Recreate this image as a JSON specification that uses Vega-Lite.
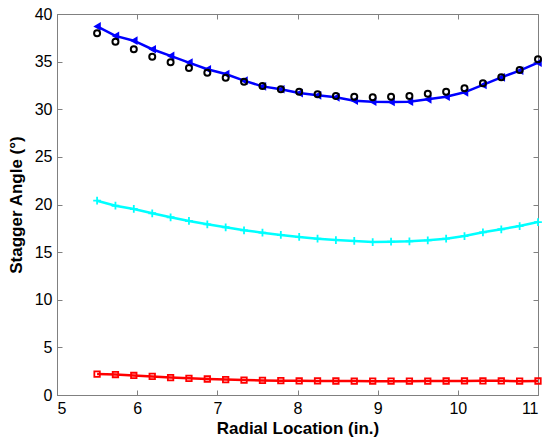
{
  "$schema": "https://vega.github.io/schema/vega-lite/v6.json",
  "autosize": "none",
  "width": 481,
  "height": 381,
  "padding": {"left": 57, "top": 14, "right": 9, "bottom": 46},
  "background": "white",
  "config": {
    "view": {"stroke": "#808080", "strokeWidth": 1},
    "font": "Liberation Sans",
    "axis": {
      "labelFont": "Liberation Sans",
      "labelFontSize": 16,
      "labelColor": "black",
      "titleFont": "Liberation Sans",
      "titleFontSize": 17,
      "titleFontWeight": "bold",
      "titleColor": "black",
      "domainColor": "#808080",
      "tickColor": "#808080",
      "tickSize": -5,
      "grid": false,
      "format": "d"
    }
  },
  "data": {
    "values": [
      {"x": 5.5, "blue": 38.7, "black": 37.97, "cyan": 20.4, "red": 2.2},
      {"x": 5.729, "blue": 37.7, "black": 37.09, "cyan": 19.87, "red": 2.15},
      {"x": 5.958, "blue": 37.2, "black": 36.29, "cyan": 19.53, "red": 2.05},
      {"x": 6.188, "blue": 36.3, "black": 35.52, "cyan": 19.08, "red": 1.95},
      {"x": 6.417, "blue": 35.6, "black": 34.93, "cyan": 18.66, "red": 1.83},
      {"x": 6.646, "blue": 34.9, "black": 34.33, "cyan": 18.27, "red": 1.75},
      {"x": 6.875, "blue": 34.2, "black": 33.84, "cyan": 17.92, "red": 1.68},
      {"x": 7.104, "blue": 33.7, "black": 33.31, "cyan": 17.61, "red": 1.62},
      {"x": 7.333, "blue": 33.0, "black": 32.89, "cyan": 17.29, "red": 1.57},
      {"x": 7.563, "blue": 32.4, "black": 32.44, "cyan": 17.04, "red": 1.53},
      {"x": 7.792, "blue": 32.1, "black": 32.09, "cyan": 16.8, "red": 1.5},
      {"x": 8.021, "blue": 31.7, "black": 31.84, "cyan": 16.59, "red": 1.49},
      {"x": 8.25, "blue": 31.46, "black": 31.57, "cyan": 16.41, "red": 1.48},
      {"x": 8.479, "blue": 31.25, "black": 31.39, "cyan": 16.27, "red": 1.47},
      {"x": 8.708, "blue": 30.9, "black": 31.32, "cyan": 16.17, "red": 1.46},
      {"x": 8.938, "blue": 30.8, "black": 31.25, "cyan": 16.06, "red": 1.45},
      {"x": 9.167, "blue": 30.76, "black": 31.32, "cyan": 16.1, "red": 1.45},
      {"x": 9.396, "blue": 30.79, "black": 31.39, "cyan": 16.14, "red": 1.45},
      {"x": 9.625, "blue": 31.04, "black": 31.63, "cyan": 16.24, "red": 1.46},
      {"x": 9.854, "blue": 31.32, "black": 31.84, "cyan": 16.41, "red": 1.47},
      {"x": 10.083, "blue": 31.78, "black": 32.2, "cyan": 16.69, "red": 1.48},
      {"x": 10.313, "blue": 32.55, "black": 32.72, "cyan": 17.08, "red": 1.49},
      {"x": 10.542, "blue": 33.35, "black": 33.35, "cyan": 17.4, "red": 1.49},
      {"x": 10.771, "blue": 34.05, "black": 34.12, "cyan": 17.74, "red": 1.45},
      {"x": 11.0, "blue": 34.89, "black": 35.24, "cyan": 18.16, "red": 1.47}
    ]
  },
  "transform": [{"fold": ["blue", "black", "cyan", "red"], "as": ["series", "value"]}],
  "resolve": {"axis": {"x": "independent", "y": "independent"}},
  "layer": [
    {
      "transform": [{"filter": "datum.series !== 'black'"}],
      "mark": {"type": "line", "strokeWidth": 2.5, "clip": true},
      "encoding": {
        "x": {"field": "x", "type": "quantitative", "scale": {"domain": [5, 11], "nice": false},
              "axis": {"orient": "bottom", "values": [5, 6, 7, 8, 9, 10, 11], "title": "Radial Location (in.)", "labelPadding": 10, "titlePadding": 4}},
        "y": {"field": "value", "type": "quantitative", "scale": {"domain": [0, 40], "nice": false},
              "axis": {"orient": "left", "values": [0, 5, 10, 15, 20, 25, 30, 35, 40], "title": "Stagger Angle (°)", "labelPadding": 10, "titlePadding": 9}},
        "color": {"field": "series", "type": "nominal", "legend": null,
                  "scale": {"domain": ["blue", "cyan", "red"], "range": ["#0000ff", "#00ffff", "#ff0000"]}},
        "detail": {"field": "series"}
      }
    },
    {
      "transform": [{"filter": "datum.series === 'blue'"}],
      "mark": {"type": "point", "shape": "triangle-left", "filled": true, "color": "#0000ff", "size": 75, "opacity": 1},
      "encoding": {
        "x": {"field": "x", "type": "quantitative", "axis": null},
        "y": {"field": "value", "type": "quantitative", "axis": null}
      }
    },
    {
      "transform": [{"filter": "datum.series === 'black'"}],
      "mark": {"type": "point", "shape": "circle", "filled": false, "color": "black", "strokeWidth": 2, "size": 36, "opacity": 1},
      "encoding": {
        "x": {"field": "x", "type": "quantitative",
              "axis": {"orient": "top", "values": [5, 6, 7, 8, 9, 10, 11], "labels": false, "title": null, "domain": false}},
        "y": {"field": "value", "type": "quantitative",
              "axis": {"orient": "right", "values": [0, 5, 10, 15, 20, 25, 30, 35, 40], "labels": false, "title": null, "domain": false}}
      }
    },
    {
      "transform": [{"filter": "datum.series === 'cyan'"}],
      "mark": {"type": "point", "shape": "M-1,0H1M0,-1V1", "filled": false, "color": "#00ffff", "strokeWidth": 1.8, "size": 60, "opacity": 1},
      "encoding": {
        "x": {"field": "x", "type": "quantitative", "axis": null},
        "y": {"field": "value", "type": "quantitative", "axis": null}
      }
    },
    {
      "transform": [{"filter": "datum.series === 'red'"}],
      "mark": {"type": "point", "shape": "square", "filled": false, "color": "#ff0000", "strokeWidth": 1.8, "size": 30, "opacity": 1},
      "encoding": {
        "x": {"field": "x", "type": "quantitative", "axis": null},
        "y": {"field": "value", "type": "quantitative", "axis": null}
      }
    }
  ]
}
